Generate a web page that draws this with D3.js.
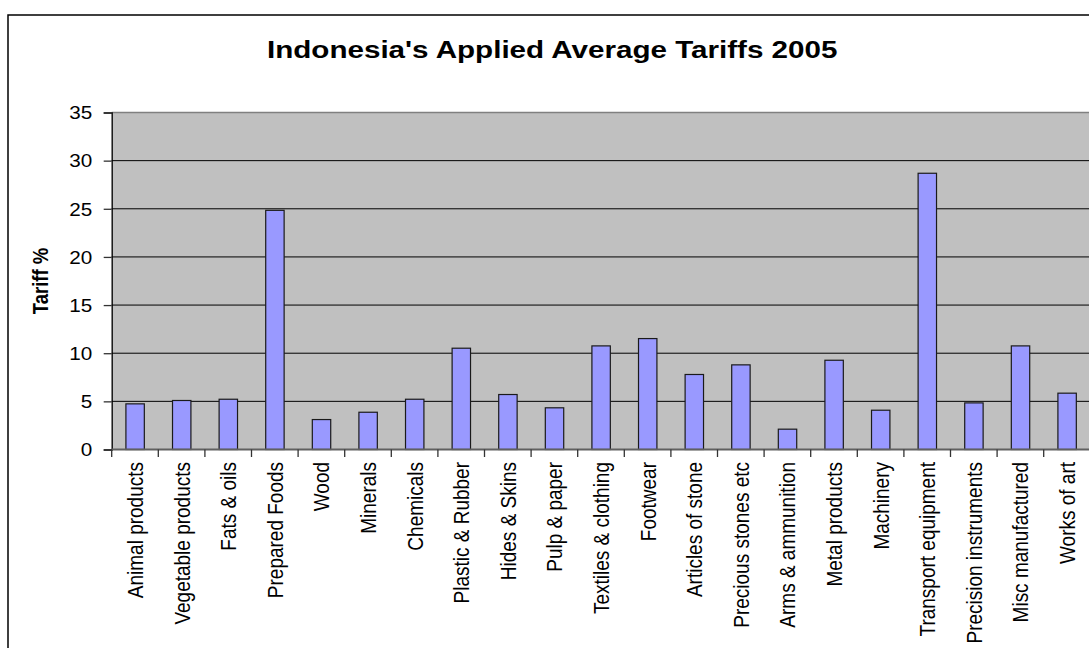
<!DOCTYPE html>
<html><head><meta charset="utf-8">
<script src="https://cdn.jsdelivr.net/npm/d3@7"></script>
<style>html,body{margin:0;padding:0;background:#fff;overflow:hidden}svg{display:block;font-family:Arial,"Liberation Sans",sans-serif}</style>
</head><body>
<svg id="c" width="1089" height="648"></svg>
<script>
const categories = ["Animal products","Vegetable products","Fats & oils","Prepared Foods","Wood","Minerals","Chemicals","Plastic & Rubber","Hides & Skins","Pulp & paper","Textiles & clothing","Footwear","Articles of stone","Precious stones etc","Arms & ammunition","Metal products","Machinery","Transport equipment","Precision instruments","Misc manufactured","Works of art"];
const tariffs = [4.74,5.09,5.22,24.84,3.11,3.87,5.22,10.52,5.71,4.33,10.76,11.52,7.79,8.79,2.11,9.27,4.08,28.69,4.84,10.76,5.85];
const yTicks = [0,5,10,15,20,25,30,35];
const title = "Indonesia's Applied Average Tariffs 2005";
const yTitle = "Tariff %";

const svg = d3.select("#c");
const L = 111.7, T = 112.5, B = 449.5, step = 46.6;
const x = d3.scaleBand().domain(categories).range([L, L + step*categories.length]).padding(0);
const y = d3.scaleLinear().domain([0,35]).range([B, T]);

// outer chart border
svg.append("rect").attr("x",8).attr("y",15).attr("width",1200).attr("height",800)
  .attr("fill","#fff").attr("stroke","#000").attr("stroke-width",1.5);

// plot area
svg.append("rect").attr("x",L).attr("y",T).attr("width",1200).attr("height",B-T)
  .attr("fill","#C0C0C0");

// gridlines
svg.append("g").selectAll("line").data(yTicks.filter(d=>d>0 && d<35)).join("line")
  .attr("x1",L).attr("x2",1100).attr("y1",d=>y(d)).attr("y2",d=>y(d))
  .attr("stroke","#000").attr("stroke-width",1);
svg.append("line").attr("x1",L).attr("x2",1100).attr("y1",T).attr("y2",T)
  .attr("stroke","#808080").attr("stroke-width",1.5);

// bars
const bw = x.bandwidth();
svg.append("g").selectAll("rect").data(tariffs).join("rect")
  .attr("x",(d,i)=>x(categories[i]) + bw*0.305)
  .attr("width",bw*0.395)
  .attr("y",d=>y(d))
  .attr("height",d=>B - y(d))
  .attr("fill","#9999FF").attr("stroke","#1a1a1a").attr("stroke-width",1.2);

// y axis
const ya = svg.append("g").attr("transform",`translate(${L},0)`)
  .call(d3.axisLeft(y).tickValues(yTicks).tickSize(8).tickPadding(10).tickFormat(d3.format("d")));
ya.select(".domain").attr("stroke","#000").attr("stroke-width",1.3);
ya.selectAll(".tick line").attr("stroke","#333").attr("stroke-width",1.3);
ya.selectAll(".tick text").attr("font-size",18).attr("fill","#000")
  .attr("font-family","Arial, 'Liberation Sans', sans-serif")
  .attr("x",null).attr("dy","0.35em")
  .attr("transform","translate(-19.5,0) scale(1.15,1)")
  .attr("text-anchor","end");

// x axis
const boundaries = categories.map((c,i)=>x(c)).concat([x(categories[categories.length-1])+bw]);
svg.append("line").attr("x1",L).attr("x2",1100).attr("y1",B).attr("y2",B)
  .attr("stroke","#606060").attr("stroke-width",1.8);
svg.append("g").selectAll("line").data(boundaries).join("line")
  .attr("x1",d=>d).attr("x2",d=>d).attr("y1",B).attr("y2",B+7.5)
  .attr("stroke","#333").attr("stroke-width",1.3);

svg.append("g").selectAll("text").data(categories).join("text")
  .attr("transform",d=>`translate(${x(d)+bw/2},462) scale(1.18,1) rotate(-90)`)
  .attr("text-anchor","end").attr("dy","0.36em")
  .attr("font-size",19).attr("fill","#000").text(d=>d);

// y title
svg.append("text").attr("transform",`translate(40,281) scale(1.2,1) rotate(-90)`)
  .attr("text-anchor","middle").attr("dy","0.35em")
  .attr("font-size",18.5).attr("font-weight","bold").text(yTitle);

// title
svg.append("text").attr("transform",`translate(552.2,57.5) scale(1.27,1)`)
  .attr("text-anchor","middle").attr("font-size",23.3).attr("font-weight","bold").text(title);
</script>
</body></html>
